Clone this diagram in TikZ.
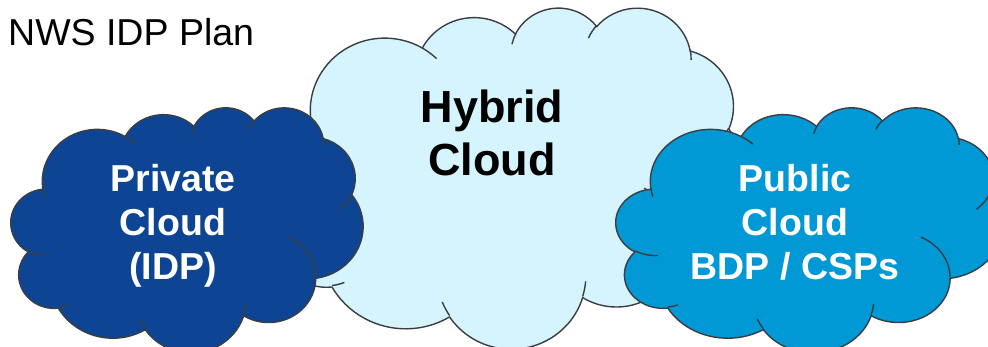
\documentclass[tikz,border=0pt]{standalone}
\usepackage{fontspec}
\setmainfont{Liberation Sans}

\definecolor{privblue}{RGB}{13,69,148}
\definecolor{publblue}{RGB}{0,153,214}
\definecolor{hybblue}{RGB}{214,244,253}
\definecolor{linegray}{RGB}{58,62,66}

% one puff of the cloud outline (radii in shape units, angles in degrees)
\newcommand\carc[4]{arc[x radius=#1,y radius=#2,
  start angle={atan2(#1*sin(#3),#2*cos(#3))},
  delta angle={mod(atan2(#1*sin(#3+#4),#2*cos(#3+#4))-atan2(#1*sin(#3),#2*cos(#3))+720,360)}]}

% cloud with fill #1, top left corner (#2,#3), size #4 x #5
\newcommand\drawcloud[5]{%
  \pgfmathsetmacro\cw{#4/432}%
  \pgfmathsetmacro\ch{#5/432}%
  \begin{scope}[shift={(#2,#3)},x=\cw pt,y=-\ch pt]
    \filldraw[cloud line,fill=#1] (39.00,143.70)
      \carc{67.53}{91.90}{-190.4875}{123.7805}
      \carc{53.33}{72.67}{-144.1024}{89.9452}
      \carc{43.65}{59.45}{-145.8079}{99.7230}
      \carc{48.57}{65.95}{-130.9861}{117.2417}
      \carc{53.33}{72.73}{-78.7089}{109.0269}
      \carc{67.75}{92.20}{-46.2673}{130.2690}
      \carc{57.85}{78.67}{0.6250}{114.0333}
      \carc{67.52}{92.15}{22.4516}{115.1726}
      \carc{77.20}{105.43}{66.2426}{75.7110}
      \carc{43.60}{59.18}{-274.9421}{146.7356}
      \carc{43.45}{59.45}{-246.8285}{152.5189}
      -- cycle;
    \draw[cloud line]
      (46.93,261.77) \carc{43.45}{59.45}{86.7420}{26.4295}
      (69.28,348.99) \carc{43.60}{59.18}{73.6105}{11.4475}
      (164.78,390.90) \carc{67.52}{92.15}{137.6242}{14.0811}
      (288.27,347.51) \carc{67.52}{92.15}{6.4533}{15.9984}
      (341.29,229.54) \carc{57.85}{78.67}{-70.2924}{70.9174}
      (417.98,153.54) \carc{53.33}{72.73}{30.3180}{27.7515}
      (383.24,54.26) \carc{48.57}{65.95}{-13.7443}{14.8589}
      (290.78,39.52) \carc{48.57}{65.95}{-149.1815}{18.1954}
      (221.41,47.20) \carc{43.65}{59.45}{-163.4943}{17.6864}
      (140.00,51.92) \carc{67.53}{91.90}{-66.7070}{12.3194}
      (41.27,157.89) \carc{67.53}{91.90}{157.6544}{11.8582};
  \end{scope}}

\begin{document}
\begin{tikzpicture}[x=1pt,y=-1pt,
  cloud line/.style={draw=linegray,line width=1.4pt},
  cloud text/.style={font=\bfseries\fontsize{37.5}{44}\selectfont,
    align=center,inner sep=0pt,anchor=base}]

  \clip (0,0) rectangle (988,346);

  % the three clouds, hybrid one behind
  \drawcloud{hybblue}{268}{7}{476}{341}
  \drawcloud{privblue}{11}{107}{352}{245}
  \drawcloud{publblue}{616}{107}{386}{245}

  \node[anchor=base west,inner sep=0pt,font=\fontsize{37.5}{44}\selectfont]
    (title) at (8,45) {NWS IDP Plan};

  % base anchor sits on the last line
  \node[cloud text,font=\bfseries\fontsize{45}{53}\selectfont]
    (hybrid) at (492,175) {Hybrid\\Cloud};
  \node[cloud text,text=white] (private) at (173,279) {Private\\Cloud\\(IDP)};
  \node[cloud text,text=white] (public) at (795,279) {Public\\Cloud\\BDP / CSPs};
\end{tikzpicture}
\end{document}
